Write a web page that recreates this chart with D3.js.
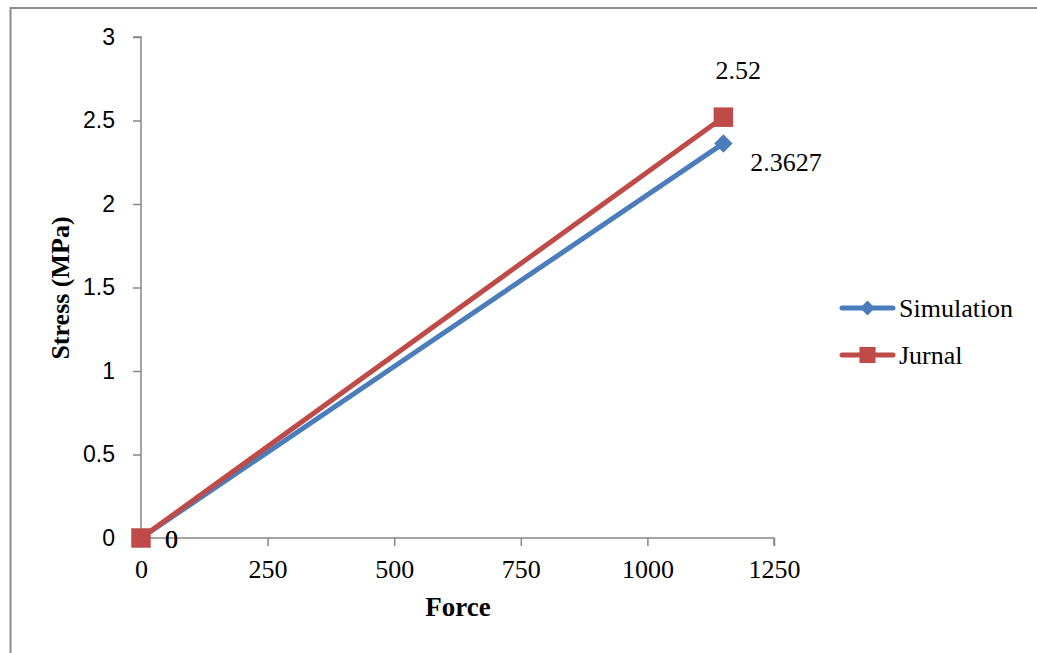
<!DOCTYPE html>
<html>
<head>
<meta charset="utf-8">
<script src="https://cdn.jsdelivr.net/npm/d3@7"></script>
<style>
  body { margin: 0; background: #fff; }
  svg { display: block; }
</style>
</head>
<body>
<div id="container"></div>
<script>
const w = 1037,
    h = 653;

// data
const seriesNames = ["Simulation", "Jurnal"];
const forceValues = [0, 1150];
const simulationStress = [0, 2.3627];
const jurnalStress = [0, 2.52];
const xTicks = [0, 250, 500, 750, 1000, 1250];
const yTicks = [0, 0.5, 1, 1.5, 2, 2.5, 3];

const colors = {Simulation: "#4a7ebb", Jurnal: "#be4b48"};
const axisColor = "#868686";
const serif = "'Liberation Serif', 'Times New Roman', serif";

var svg = d3.select("div#container")
    .append("svg")
    .attr("width", w)
    .attr("height", h);

// outer frame
svg.append("rect")
    .attr("x", 10.5)
    .attr("y", 8)
    .attr("width", 1100)
    .attr("height", 700)
    .style("fill", "none")
    .style("stroke", "#8c8c8c")
    .style("stroke-width", 2);

var x = d3.scaleLinear().domain([0, 1250]).range([141, 774]);
var y = d3.scaleLinear().domain([0, 3]).range([538, 37]);

// y axis
var yAxis = svg.append("g")
    .attr("transform", "translate(141,0)")
    .call(d3.axisLeft(y).tickValues(yTicks).tickSize(8).tickPadding(18).tickFormat(d3.format("")));
yAxis.select(".domain").attr("stroke", axisColor).attr("stroke-width", 1.5).attr("d", "M-8," + y(3) + "H0V" + y(0));
yAxis.selectAll(".tick line").attr("stroke", axisColor).attr("stroke-width", 1.5);
yAxis.selectAll(".tick text")
    .style("font-family", "'Liberation Sans', Arial, sans-serif")
    .style("font-size", "23px")
    .style("fill", "#000");

// x axis
var xAxis = svg.append("g")
    .attr("transform", "translate(0,538)")
    .call(d3.axisBottom(x).tickValues(xTicks).tickSize(8).tickPadding(14).tickFormat(d3.format("")));
xAxis.select(".domain").attr("stroke", axisColor).attr("stroke-width", 1.5).attr("d", "M" + x(0) + ",0H" + x(1250) + "V8");
xAxis.selectAll(".tick line").attr("stroke", axisColor).attr("stroke-width", 1.5);
xAxis.selectAll(".tick text")
    .style("font-family", serif)
    .style("font-size", "26px")
    .style("fill", "#000");

// axis titles
svg.append("text")
    .attr("x", 458)
    .attr("y", 616)
    .attr("text-anchor", "middle")
    .style("font-family", serif)
    .style("font-weight", "bold")
    .style("font-size", "27px")
    .text("Force");
svg.append("text")
    .attr("transform", "translate(69,288) rotate(-90)")
    .attr("text-anchor", "middle")
    .style("font-family", serif)
    .style("font-weight", "bold")
    .style("font-size", "26px")
    .text("Stress (MPa)");

var series = [
    {name: "Simulation", values: simulationStress, rotate: 45, size: 170, legendSize: 110, dx: 27, dy: 28, anchor: "start"},
    {name: "Jurnal", values: jurnalStress, rotate: 0, size: 380, legendSize: 260, dx: 15, dy: -38, anchor: "middle"}
];

var line = d3.line()
    .x(d => x(d[0]))
    .y(d => y(d[1]));

series.forEach(function (s) {
    var pts = forceValues.map((f, i) => [f, s.values[i]]);
    svg.append("path")
        .datum(pts)
        .attr("fill", "none")
        .attr("stroke", colors[s.name])
        .attr("stroke-width", 5)
        .attr("stroke-linecap", "round")
        .attr("d", line);
    svg.selectAll(null)
        .data(pts)
        .enter().append("path")
        .attr("transform", d => "translate(" + x(d[0]) + "," + y(d[1]) + ") rotate(" + s.rotate + ")")
        .attr("d", d3.symbol().type(d3.symbolSquare).size(s.size)())
        .style("fill", colors[s.name]);
});

// data labels
series.forEach(function (s) {
    svg.append("text")
        .attr("x", x(forceValues[1]) + s.dx)
        .attr("y", y(s.values[1]) + s.dy)
        .attr("text-anchor", s.anchor)
        .style("font-family", serif)
        .style("font-size", "26px")
        .text(s.values[1]);
    svg.append("text")
        .attr("x", x(forceValues[0]) + 24)
        .attr("y", y(s.values[0]) + 10)
        .style("font-family", serif)
        .style("font-size", "26px")
        .text(s.values[0]);
});

// legend
var legend = svg.append("g").attr("transform", "translate(840,308)");
series.forEach(function (s, i) {
    var g = legend.append("g").attr("transform", "translate(0," + (i * 47) + ")");
    g.append("line")
        .attr("x1", 2).attr("x2", 53)
        .attr("y1", 0).attr("y2", 0)
        .attr("stroke", colors[s.name])
        .attr("stroke-width", 5)
        .attr("stroke-linecap", "round");
    g.append("path")
        .attr("transform", "translate(27.5,0) rotate(" + s.rotate + ")")
        .attr("d", d3.symbol().type(d3.symbolSquare).size(s.legendSize)())
        .style("fill", colors[s.name]);
    g.append("text")
        .attr("x", 59)
        .attr("y", 9)
        .style("font-family", serif)
        .style("font-size", "26px")
        .text(s.name);
});
</script>
</body>
</html>
